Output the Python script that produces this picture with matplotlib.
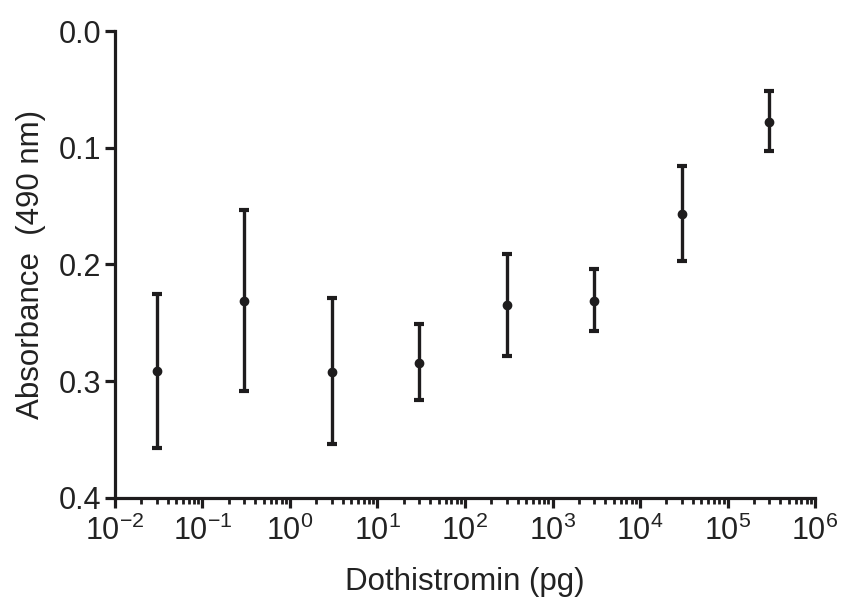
import matplotlib.pyplot as plt
from matplotlib.ticker import LogLocator, NullFormatter
import numpy as np

# Dothistromin-Mengen (pg) und gemessene Absorption bei 490 nm
dothistromin = [3e-2, 3e-1, 3e0, 3e1, 3e2, 3e3, 3e4, 3e5]
absorbance = [0.291, 0.231, 0.292, 0.284, 0.235, 0.231, 0.157, 0.078]
err_low = [0.066, 0.078, 0.063, 0.033, 0.044, 0.027, 0.041, 0.027]   # Richtung kleinerer Werte
err_high = [0.066, 0.077, 0.062, 0.032, 0.043, 0.026, 0.040, 0.025]  # Richtung größerer Werte

y_ticks = [0.0, 0.1, 0.2, 0.3, 0.4]
y_labels = ["0.0", "0.1", "0.2", "0.3", "0.4"]
x_ticks = [1e-2, 1e-1, 1e0, 1e1, 1e2, 1e3, 1e4, 1e5, 1e6]
x_labels = ["10$^{-2}$", "10$^{-1}$", "10$^{0}$", "10$^{1}$", "10$^{2}$",
            "10$^{3}$", "10$^{4}$", "10$^{5}$", "10$^{6}$"]

farbe = "#1e1c1d"

plt.rcParams["font.family"] = ["Liberation Sans", "DejaVu Sans"]
plt.rcParams["mathtext.fontset"] = "custom"
plt.rcParams["mathtext.rm"] = "Liberation Sans"
plt.rcParams["mathtext.default"] = "regular"

fig = plt.figure(figsize=(8.43, 5.97), dpi=100)
ax = fig.add_axes([0.1364, 0.166, 0.8304, 0.782])

ax.errorbar(dothistromin, absorbance, yerr=[err_low, err_high], fmt="o",
            color=farbe, markersize=6, elinewidth=2.4, capsize=3.5, capthick=3)

ax.set_xscale("log")
ax.set_xlim(1e-2, 1e6)
ax.set_ylim(0.4, 0.0)

ax.set_xticks(x_ticks)
ax.set_xticklabels(x_labels)
ax.xaxis.set_minor_locator(LogLocator(base=10, subs=np.arange(2, 10), numticks=20))
ax.xaxis.set_minor_formatter(NullFormatter())
ax.set_yticks(y_ticks)
ax.set_yticklabels(y_labels)

for side in ["top", "right"]:
    ax.spines[side].set_visible(False)
for side in ["left", "bottom"]:
    ax.spines[side].set_linewidth(2.3)
    ax.spines[side].set_color(farbe)

ax.tick_params(axis="both", which="major", direction="out", width=2.3,
               color=farbe, labelsize=22, labelcolor="#222222")
ax.tick_params(axis="y", which="major", length=7, pad=3)
ax.tick_params(axis="x", which="major", length=7, pad=6)
ax.tick_params(axis="x", which="minor", direction="out", length=4.5, width=2.0, color=farbe)

ax.set_xlabel("Dothistromin (pg)", fontsize=22.5, color="#222222", labelpad=14)
ax.set_ylabel("Absorbance  (490 nm)", fontsize=22.5, color="#222222", labelpad=9)

plt.savefig("out.png", dpi=100)
